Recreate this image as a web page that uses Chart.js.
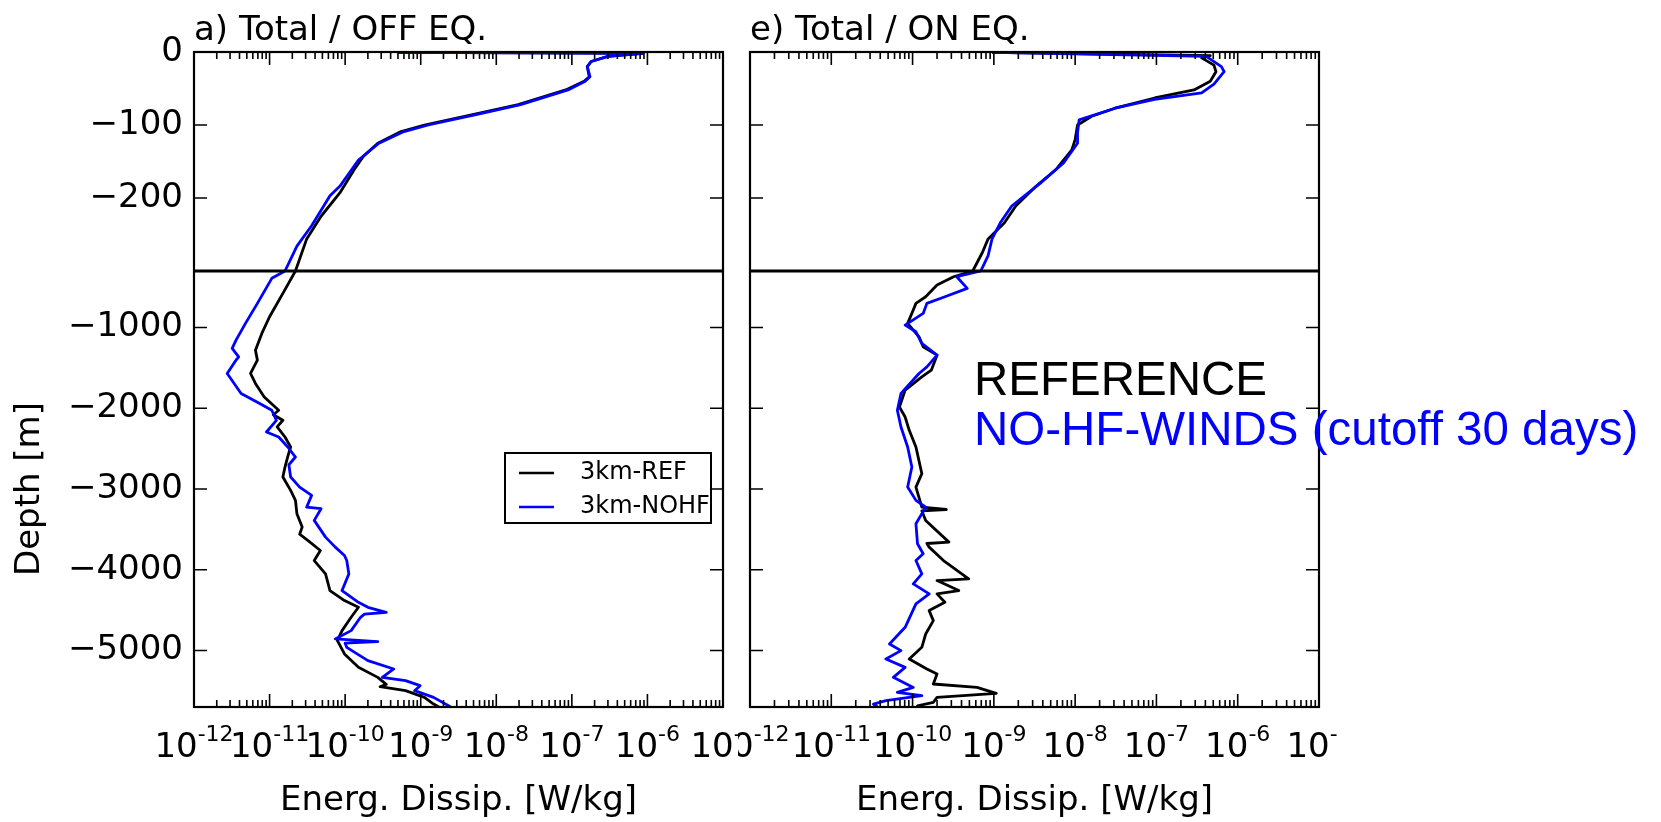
<!DOCTYPE html>
<html>
<head>
<meta charset="utf-8">
<title>Energy dissipation profiles</title>
<script src="https://cdn.jsdelivr.net/npm/chart.js@4.4.1/dist/chart.umd.min.js"></script>
<style>
  body { margin: 0; background: #fff; }
  #wrap { position: relative; width: 1661px; height: 822px; overflow: hidden; background: #fff; }
  #cOff { position: absolute; left: 0; top: 0; }
  #cOn { position: absolute; left: 738px; top: 0; background: #fff; }
  .note { position: absolute; left: 974px; font-family: "Liberation Sans", Arial, sans-serif;
          font-size: 47.5px; line-height: 1; white-space: nowrap; }
</style>
</head>
<body>
<div id="wrap">
  <canvas id="cOff" width="738" height="822"></canvas>
  <canvas id="cOn" width="600" height="822"></canvas>
  <div class="note" style="top:355px;color:#000;">REFERENCE</div>
  <div class="note" style="top:405px;color:#0000ff;">NO-HF-WINDS (cutoff 30 days)</div>
</div>
<script>
// axis ticks
var decadeExps = [-12, -11, -10, -9, -8, -7, -6, -5];
var depthTicksTop = [0, -100, -200];
var depthTicksBottom = [-1000, -2000, -3000, -4000, -5000];
var breakDepth = -300;
var bottomDepth = -5700;

var seriesNames = ['3km-REF', '3km-NOHF'];
var seriesColors = ['#000000', '#0000ff'];

// a) Total / OFF EQ.
var offRefDepth = [-0.5, -1.8, -6, -13, -20, -34, -40, -52, -72, -86, -100, -109, -125, -143, -161, -193, -225, -256, -300,
  -577, -867, -1073, -1280, -1404, -1569, -1693, -1860, -2025, -2080, -2149, -2230, -2356, -2480, -2600, -2728, -2852,
  -3017, -3141, -3306, -3472, -3560, -3637, -3762, -3886, -4051, -4258, -4382, -4465, -4589, -4754, -4878, -5043,
  -5209, -5333, -5420, -5449, -5498, -5581, -5664, -5700];
var offRefDiss = [5.0e-10, 8.7e-7, 3.0e-7, 1.8e-7, 1.6e-7, 1.7e-7, 1.45e-7, 8.3e-8, 1.95e-8, 4.7e-9, 1.12e-9, 5.5e-10, 2.7e-10, 1.74e-10, 1.32e-10, 8.5e-11, 4.8e-11, 3.1e-11, 2.2e-11,
  1.5e-11, 1.0e-11, 7.9e-12, 6.5e-12, 6.9e-12, 5.6e-12, 6.5e-12, 8.5e-12, 1.32e-11, 1.12e-11, 1.5e-11, 1.26e-11, 1.6e-11, 1.9e-11, 1.74e-11, 1.6e-11, 1.5e-11,
  1.9e-11, 2.2e-11, 2.3e-11, 2.7e-11, 2.5e-11, 3.2e-11, 4.7e-11, 3.9e-11, 5.5e-11, 6.3e-11, 9.8e-11, 1.5e-10, 1.2e-10, 9.1e-11, 7.9e-11, 9.8e-11,
  1.5e-10, 2.7e-10, 3.5e-10, 2.9e-10, 6.3e-10, 1.12e-9, 1.48e-9, 1.74e-9];

var offNohfDepth = [-0.5, -1.8, -6, -13, -20, -34, -40, -52, -72, -86, -100, -109, -125, -148, -184, -197, -238, -266, -300,
  -391, -701, -949, -1156, -1259, -1363, -1420, -1569, -1817, -1941, -2025, -2149, -2294, -2356, -2480, -2604, -2700,
  -2852, -2976, -3079, -3224, -3244, -3389, -3596, -3720, -3823, -3886, -4051, -4258, -4403, -4465, -4527, -4550,
  -4589, -4754, -4857, -4890, -4910, -4961, -5126, -5229, -5333, -5374, -5436, -5498, -5581, -5700];
var offNohfDiss = [5.0e-10, 8.7e-7, 3.0e-7, 1.8e-7, 1.6e-7, 1.74e-7, 1.5e-7, 8.9e-8, 2.1e-8, 5.2e-9, 1.26e-9, 6.0e-10, 2.8e-10, 1.5e-10, 8.5e-11, 6.3e-11, 3.6e-11, 2.3e-11, 1.6e-11,
  1.07e-11, 6.9e-12, 4.8e-12, 3.6e-12, 3.2e-12, 3.9e-12, 3.5e-12, 2.75e-12, 4.2e-12, 7.4e-12, 1.07e-11, 1.23e-11, 9.1e-12, 1.32e-11, 1.74e-11, 2.2e-11, 1.8e-11,
  1.9e-11, 2.5e-11, 3.6e-11, 3.1e-11, 4.8e-11, 3.9e-11, 5.5e-11, 7.4e-11, 9.8e-11, 1.05e-10, 1.12e-10, 9.1e-11, 1.5e-10, 2.0e-10, 3.5e-10, 1.8e-10,
  1.6e-10, 1.2e-10, 7.4e-11, 2.7e-10, 1.0e-10, 1.05e-10, 2.0e-10, 4.4e-10, 3.1e-10, 6.3e-10, 9.8e-10, 8.3e-10, 1.48e-9, 2.5e-9];

// e) Total / ON EQ.
var onRefDepth = [-0.5, -5, -8, -18, -27, -40, -52, -63, -77, -88, -100, -120, -134, -161, -184, -211, -234, -256, -275, -300,
  -371, -474, -619, -701, -784, -949, -1115, -1239, -1342, -1528, -1611, -1776, -1984, -2108, -2273, -2480, -2810,
  -2976, -3224, -3254, -3270, -3389, -3658, -3675, -3720, -3886, -4113, -4134, -4258, -4299, -4403, -4506, -4630,
  -4796, -4961, -5105, -5229, -5291, -5415, -5457, -5532, -5581, -5643, -5685, -5700];
var onRefDiss = [9.5e-10, 4.6e-7, 3.6e-7, 5.1e-7, 5.4e-7, 4.6e-7, 2.9e-7, 9.5e-8, 3.1e-8, 1.6e-8, 1.07e-8, 1.0e-8, 9.1e-9, 5.8e-9, 3.3e-9, 1.86e-9, 1.35e-9, 8.5e-10, 7.2e-10, 5.5e-10,
  3.2e-10, 2.0e-10, 1.45e-10, 1.1e-10, 1.02e-10, 8.7e-11, 1.2e-10, 1.35e-10, 2.0e-10, 1.7e-10, 1.3e-10, 8.1e-11, 6.9e-11, 8.1e-11, 9.1e-11, 1.1e-10, 1.3e-10,
  1.1e-10, 1.3e-10, 2.6e-10, 1.3e-10, 1.45e-10, 2.8e-10, 1.5e-10, 1.6e-10, 2.4e-10, 4.9e-10, 2.0e-10, 3.7e-10, 2.0e-10, 2.5e-10, 1.6e-10, 1.8e-10,
  1.45e-10, 1.3e-10, 9.1e-11, 1.5e-10, 2.0e-10, 1.8e-10, 6.2e-10, 1.07e-9, 2.0e-10, 1.8e-10, 1.15e-10, 1.3e-10];

var onNohfDepth = [-0.5, -6, -20, -27, -44, -56, -65, -77, -93, -111, -125, -152, -180, -211, -234, -256, -279, -300,
  -371, -515, -619, -701, -825, -970, -1053, -1197, -1342, -1487, -1569, -1817, -2025, -2232, -2480, -2728, -2976,
  -3141, -3224, -3430, -3678, -3802, -3886, -4051, -4175, -4299, -4423, -4713, -4920, -5002, -5105, -5209, -5333,
  -5457, -5519, -5560, -5622, -5664, -5700];
var onNohfDiss = [9.5e-10, 4.1e-7, 6.3e-7, 6.8e-7, 5.1e-7, 3.6e-7, 9.5e-8, 3.1e-8, 1.12e-8, 1.07e-8, 1.07e-8, 7.2e-9, 3.7e-9, 1.66e-9, 1.2e-9, 9.5e-10, 8.5e-10, 6.9e-10,
  3.5e-10, 4.7e-10, 2.5e-10, 1.5e-10, 1.35e-10, 8.1e-11, 1.1e-10, 1.3e-10, 2.0e-10, 1.5e-10, 1.2e-10, 7.2e-11, 6.5e-11, 7.2e-11, 8.7e-11, 9.8e-11, 8.7e-11,
  1.1e-10, 1.45e-10, 1.1e-10, 1.15e-10, 1.35e-10, 1.1e-10, 1.3e-10, 1.02e-10, 1.6e-10, 1.1e-10, 8.1e-11, 5.2e-11, 7.2e-11, 4.7e-11, 8.1e-11, 5.8e-11,
  1.02e-10, 6.5e-11, 1.3e-10, 4.7e-11, 3.3e-11, 3.7e-11];

var FONT = 'DejaVu Sans';

// split one profile at the break depth, upper part goes on yTop, lower on yBot
function profilePoints(depth, diss, upper) {
  var out = [];
  depth.forEach(function (d, i) {
    if (upper ? d >= breakDepth : d <= breakDepth) out.push({x: diss[i], y: d});
  });
  return out;
}

function makeDatasets(ref, nohf) {
  var sets = [];
  [ref, nohf].forEach(function (s, k) {
    ['yTop', 'yBot'].forEach(function (ax) {
      sets.push({
        label: seriesNames[k],
        data: profilePoints(s[0], s[1], ax === 'yTop'),
        yAxisID: ax,
        borderColor: seriesColors[k],
        borderWidth: 2.8,
        borderJoinStyle: 'round',
        pointRadius: 0,
        tension: 0,
        fill: false,
        order: k === 0 ? 1 : 0
      });
    });
  });
  return sets;
}

function fmtDepth(v) {
  return v === 0 ? '0' : '\u2212' + Math.abs(v);
}

// frame, break line and inward ticks (matplotlib look)
var axesFrame = {
  id: 'axesFrame',
  afterDatasetsDraw: function (chart) {
    var ctx = chart.ctx, a = chart.chartArea, s = chart.scales;
    ctx.save();
    ctx.strokeStyle = '#000';
    ctx.lineWidth = 1.6;
    ctx.beginPath();
    function tickY(y) {
      ctx.moveTo(a.left, y); ctx.lineTo(a.left + 13, y);
      ctx.moveTo(a.right, y); ctx.lineTo(a.right - 13, y);
    }
    function tickX(x, len) {
      ctx.moveTo(x, a.bottom); ctx.lineTo(x, a.bottom - len);
      ctx.moveTo(x, a.top); ctx.lineTo(x, a.top + len);
    }
    depthTicksTop.forEach(function (v) { tickY(s.yTop.getPixelForValue(v)); });
    depthTicksBottom.forEach(function (v) { tickY(s.yBot.getPixelForValue(v)); });
    decadeExps.forEach(function (e, i) {
      tickX(s.x.getPixelForValue(Math.pow(10, e)), 13);
      if (i === decadeExps.length - 1) return;
      for (var m = 2; m < 10; m++) tickX(s.x.getPixelForValue(m * Math.pow(10, e)), 7);
    });
    ctx.stroke();

    ctx.lineWidth = 2.2;
    ctx.strokeRect(a.left, a.top, a.right - a.left, a.bottom - a.top);
    var yb = s.yTop.getPixelForValue(breakDepth);
    ctx.lineWidth = 2.8;
    ctx.beginPath();
    ctx.moveTo(a.left, yb); ctx.lineTo(a.right, yb);
    ctx.stroke();
    ctx.restore();
  }
};

// 10^n labels with a raised exponent
var mathTicks = {
  id: 'mathTicks',
  afterDraw: function (chart) {
    var ctx = chart.ctx, a = chart.chartArea, x = chart.scales.x;
    ctx.save();
    ctx.fillStyle = '#000';
    ctx.textAlign = 'left';
    ctx.textBaseline = 'alphabetic';
    decadeExps.forEach(function (e) {
      var px = x.getPixelForValue(Math.pow(10, e));
      var base = '10', sup = '-' + Math.abs(e);
      ctx.font = '34px "' + FONT + '"';
      var wb = ctx.measureText(base).width;
      ctx.font = '22px "' + FONT + '"';
      var ws = ctx.measureText(sup).width;
      var x0 = px - (wb + ws) / 2;
      ctx.font = '34px "' + FONT + '"';
      ctx.fillText(base, x0, a.bottom + 50);
      ctx.font = '22px "' + FONT + '"';
      ctx.fillText(sup, x0 + wb, a.bottom + 34);
    });
    ctx.restore();
  }
};

// boxed legend inside the OFF panel
var boxLegend = {
  id: 'boxLegend',
  afterDraw: function (chart) {
    var ctx = chart.ctx, a = chart.chartArea;
    var names = [], cols = [];
    chart.data.datasets.forEach(function (ds) {
      if (names.indexOf(ds.label) < 0) { names.push(ds.label); cols.push(ds.borderColor); }
    });
    var w = 206, h = 70;
    var left = a.right - 12 - w, top = a.top + 401;
    ctx.save();
    ctx.fillStyle = '#fff';
    ctx.fillRect(left, top, w, h);
    ctx.strokeStyle = '#000';
    ctx.lineWidth = 2;
    ctx.strokeRect(left, top, w, h);
    ctx.font = '24px "' + FONT + '"';
    ctx.textBaseline = 'middle';
    ctx.textAlign = 'left';
    names.forEach(function (n, i) {
      var y = top + 20 + i * 34;
      ctx.strokeStyle = cols[i];
      ctx.lineWidth = 2.5;
      ctx.beginPath();
      ctx.moveTo(left + 14, y); ctx.lineTo(left + 49, y);
      ctx.stroke();
      ctx.fillStyle = '#000';
      ctx.fillText(n, left + 75, y);
    });
    ctx.restore();
  }
};

function panelConfig(title, sets, showY, yWidth, rightPad, extra) {
  var font = {family: FONT, size: 34, weight: 'normal'};
  function depthAxis(ticksArr, lo, hi, weight, sw, withTitle) {
    return {
      type: 'linear',
      position: 'left',
      stack: 'depth',
      stackWeight: sw,
      weight: weight,
      min: lo,
      max: hi,
      afterBuildTicks: function (s) { s.ticks = ticksArr.map(function (v) { return {value: v}; }); },
      ticks: {display: showY, autoSkip: false, padding: 11, color: '#000', font: font, callback: fmtDepth},
      grid: {display: false, drawTicks: false},
      border: {display: false},
      title: {display: withTitle, text: 'Depth [m]', color: '#000', font: font, padding: {top: 10, bottom: 0}},
      afterFit: function (s) { s.width = yWidth; }
    };
  }
  return {
    type: 'line',
    data: {datasets: sets},
    options: {
      responsive: false,
      animation: false,
      devicePixelRatio: 1,
      layout: {padding: {left: 0, right: rightPad, top: 0, bottom: 0}},
      plugins: {
        legend: {display: false},
        tooltip: {enabled: false},
        title: {
          display: true, text: title, align: 'start', fullSize: false, color: '#000',
          font: {family: FONT, size: 34, weight: 'normal', lineHeight: 1},
          padding: {top: 14, bottom: 4}
        }
      },
      scales: {
        x: {
          type: 'logarithmic',
          position: 'bottom',
          min: 1e-12,
          max: 1e-5,
          grid: {display: false, drawTicks: false},
          border: {display: false},
          ticks: {display: false},
          title: {display: true, text: 'Energ. Dissip. [W/kg]', color: '#000', font: font, padding: {top: 0, bottom: 0}},
          afterFit: function (s) { s.height = 115; }
        },
        yTop: depthAxis(depthTicksTop, breakDepth, 0, 2, 219, false),
        yBot: depthAxis(depthTicksBottom, bottomDepth, breakDepth, 1, 436, showY)
      }
    },
    plugins: [axesFrame, mathTicks].concat(extra)
  };
}

new Chart(document.getElementById('cOff'),
  panelConfig('a) Total / OFF EQ.',
    makeDatasets([offRefDepth, offRefDiss], [offNohfDepth, offNohfDiss]),
    true, 194, 15, [boxLegend]));

new Chart(document.getElementById('cOn'),
  panelConfig('e) Total / ON EQ.',
    makeDatasets([onRefDepth, onRefDiss], [onNohfDepth, onNohfDiss]),
    false, 12, 19, []));
</script>
</body>
</html>
